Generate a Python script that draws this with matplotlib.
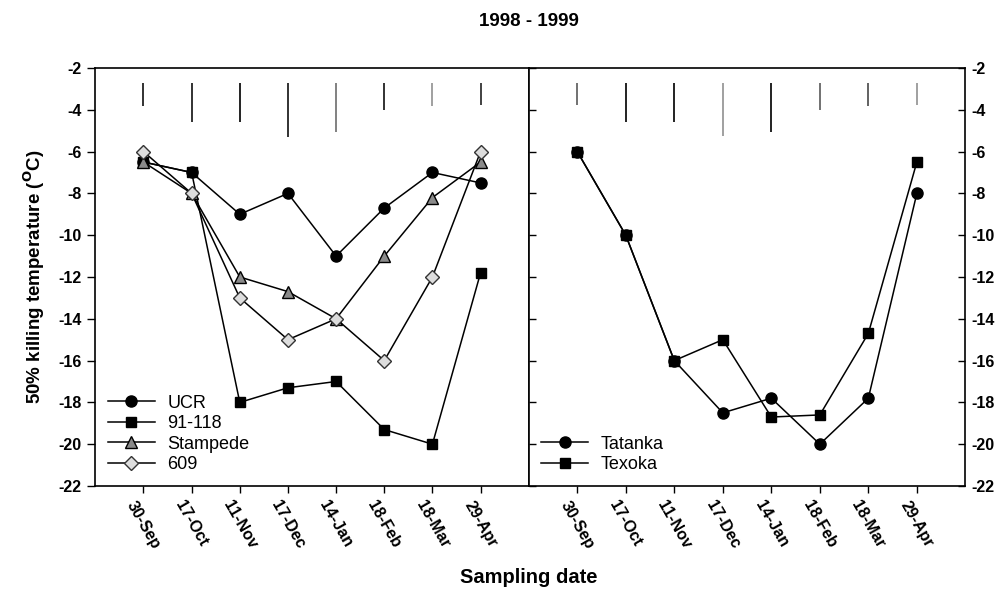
import numpy as np
import matplotlib
matplotlib.use('Agg')
import matplotlib.pyplot as plt

plt.rcParams['font.family'] = ['Liberation Sans', 'DejaVu Sans']
plt.rcParams['axes.unicode_minus'] = False

dates = ['30-Sep', '17-Oct', '11-Nov', '17-Dec', '14-Jan', '18-Feb', '18-Mar', '29-Apr']

# left panel cultivars
ucr = [-6.5, -7.0, -9.0, -8.0, -11.0, -8.7, -7.0, -7.5]
l91_118 = [-6.5, -7.0, -18.0, -17.3, -17.0, -19.3, -20.0, -11.8]
stampede = [-6.5, -8.0, -12.0, -12.7, -14.0, -11.0, -8.2, -6.5]
c609 = [-6.0, -8.0, -13.0, -15.0, -14.0, -16.0, -12.0, -6.0]

# right panel cultivars
tatanka = [-6.0, -10.0, -16.0, -18.5, -17.8, -20.0, -17.8, -8.0]
texoka = [-6.0, -10.0, -16.0, -15.0, -18.7, -18.6, -14.7, -6.5]

# LSD bars hanging from the top
lsd_top = -2.7
lsd_left = [1.1, 1.9, 1.9, 2.6, 2.35, 1.3, 1.1, 1.05]
lsd_right = [1.05, 1.9, 1.9, 2.55, 2.35, 1.3, 1.1, 1.05]
lsd_left_col = ['#222222', '#222222', '#111111', '#222222', '#777777', '#222222', '#999999', '#333333']
lsd_right_col = ['#666666', '#111111', '#111111', '#999999', '#111111', '#666666', '#555555', '#999999']

x = np.arange(1, len(dates) + 1)

fig = plt.figure(figsize=(9.98, 6.0), dpi=100)
ax1 = fig.add_axes([0.0955, 0.19, 0.4343, 0.6967])
ax2 = fig.add_axes([0.5298, 0.19, 0.4375, 0.6967])

lw = 1.1
ax1.plot(x, ucr, '-o', color='black', lw=lw, ms=8, mfc='black', mec='black', label='UCR')
ax1.plot(x, l91_118, '-s', color='black', lw=lw, ms=7.5, mfc='black', mec='black', label='91-118')
ax1.plot(x, stampede, '-^', color='black', lw=lw, ms=8, mfc='#8a8a8a', mec='black', label='Stampede')
ax1.plot(x, c609, '-D', color='black', lw=lw, ms=7, mfc='#dddddd', mec='#333333', label='609')

ax2.plot(x, tatanka, '-o', color='black', lw=lw, ms=8, mfc='black', mec='black', label='Tatanka')
ax2.plot(x, texoka, '-s', color='black', lw=lw, ms=7.5, mfc='black', mec='black', label='Texoka')

for ax, lsd, cols in [(ax1, lsd_left, lsd_left_col), (ax2, lsd_right, lsd_right_col)]:
    for xi, d, c in zip(x, lsd, cols):
        ax.vlines(xi, lsd_top - d, lsd_top, color=c, lw=1.3)

for ax in (ax1, ax2):
    ax.set_xlim(0, 9)
    ax.set_ylim(-22, -2)
    ax.set_yticks(np.arange(-22, -1, 2))
    ax.set_xticks(x)
    ax.set_xticklabels(dates, rotation=-60, ha='center', va='top',
                       fontsize=11.5, fontweight='bold')
    ax.tick_params(axis='x', direction='out', length=5, width=1, pad=4)
    for s in ax.spines.values():
        s.set_linewidth(1.2)

ax1.tick_params(axis='y', direction='out', length=6, width=1, labelsize=11.5, pad=4)
for t in ax1.get_yticklabels():
    t.set_fontweight('bold')

ax2.tick_params(axis='y', direction='in', left=True, right=True,
                labelleft=False, labelright=True, length=5, width=1, labelsize=11.5, pad=4)
for t in ax2.get_yticklabels():
    t.set_fontweight('bold')

ax1.legend(loc='lower left', bbox_to_anchor=(0.0, 0.0), frameon=False, fontsize=13,
           handlelength=2.6, handletextpad=0.7, labelspacing=0.2, borderaxespad=0.3)
ax2.legend(loc='lower left', bbox_to_anchor=(0.0, 0.0), frameon=False, fontsize=13,
           handlelength=2.6, handletextpad=0.7, labelspacing=0.2, borderaxespad=0.3)

ax1.set_ylabel('50% killing temperature ($^{\\bf O}$C)', fontsize=13.5, fontweight='bold', labelpad=8)
fig.text(0.53, 0.965, '1998 - 1999', ha='center', va='center', fontsize=13.5, fontweight='bold')
fig.text(0.53, 0.037, 'Sampling date', ha='center', va='center', fontsize=14.5, fontweight='bold')

fig.savefig('out.png', dpi=100)
